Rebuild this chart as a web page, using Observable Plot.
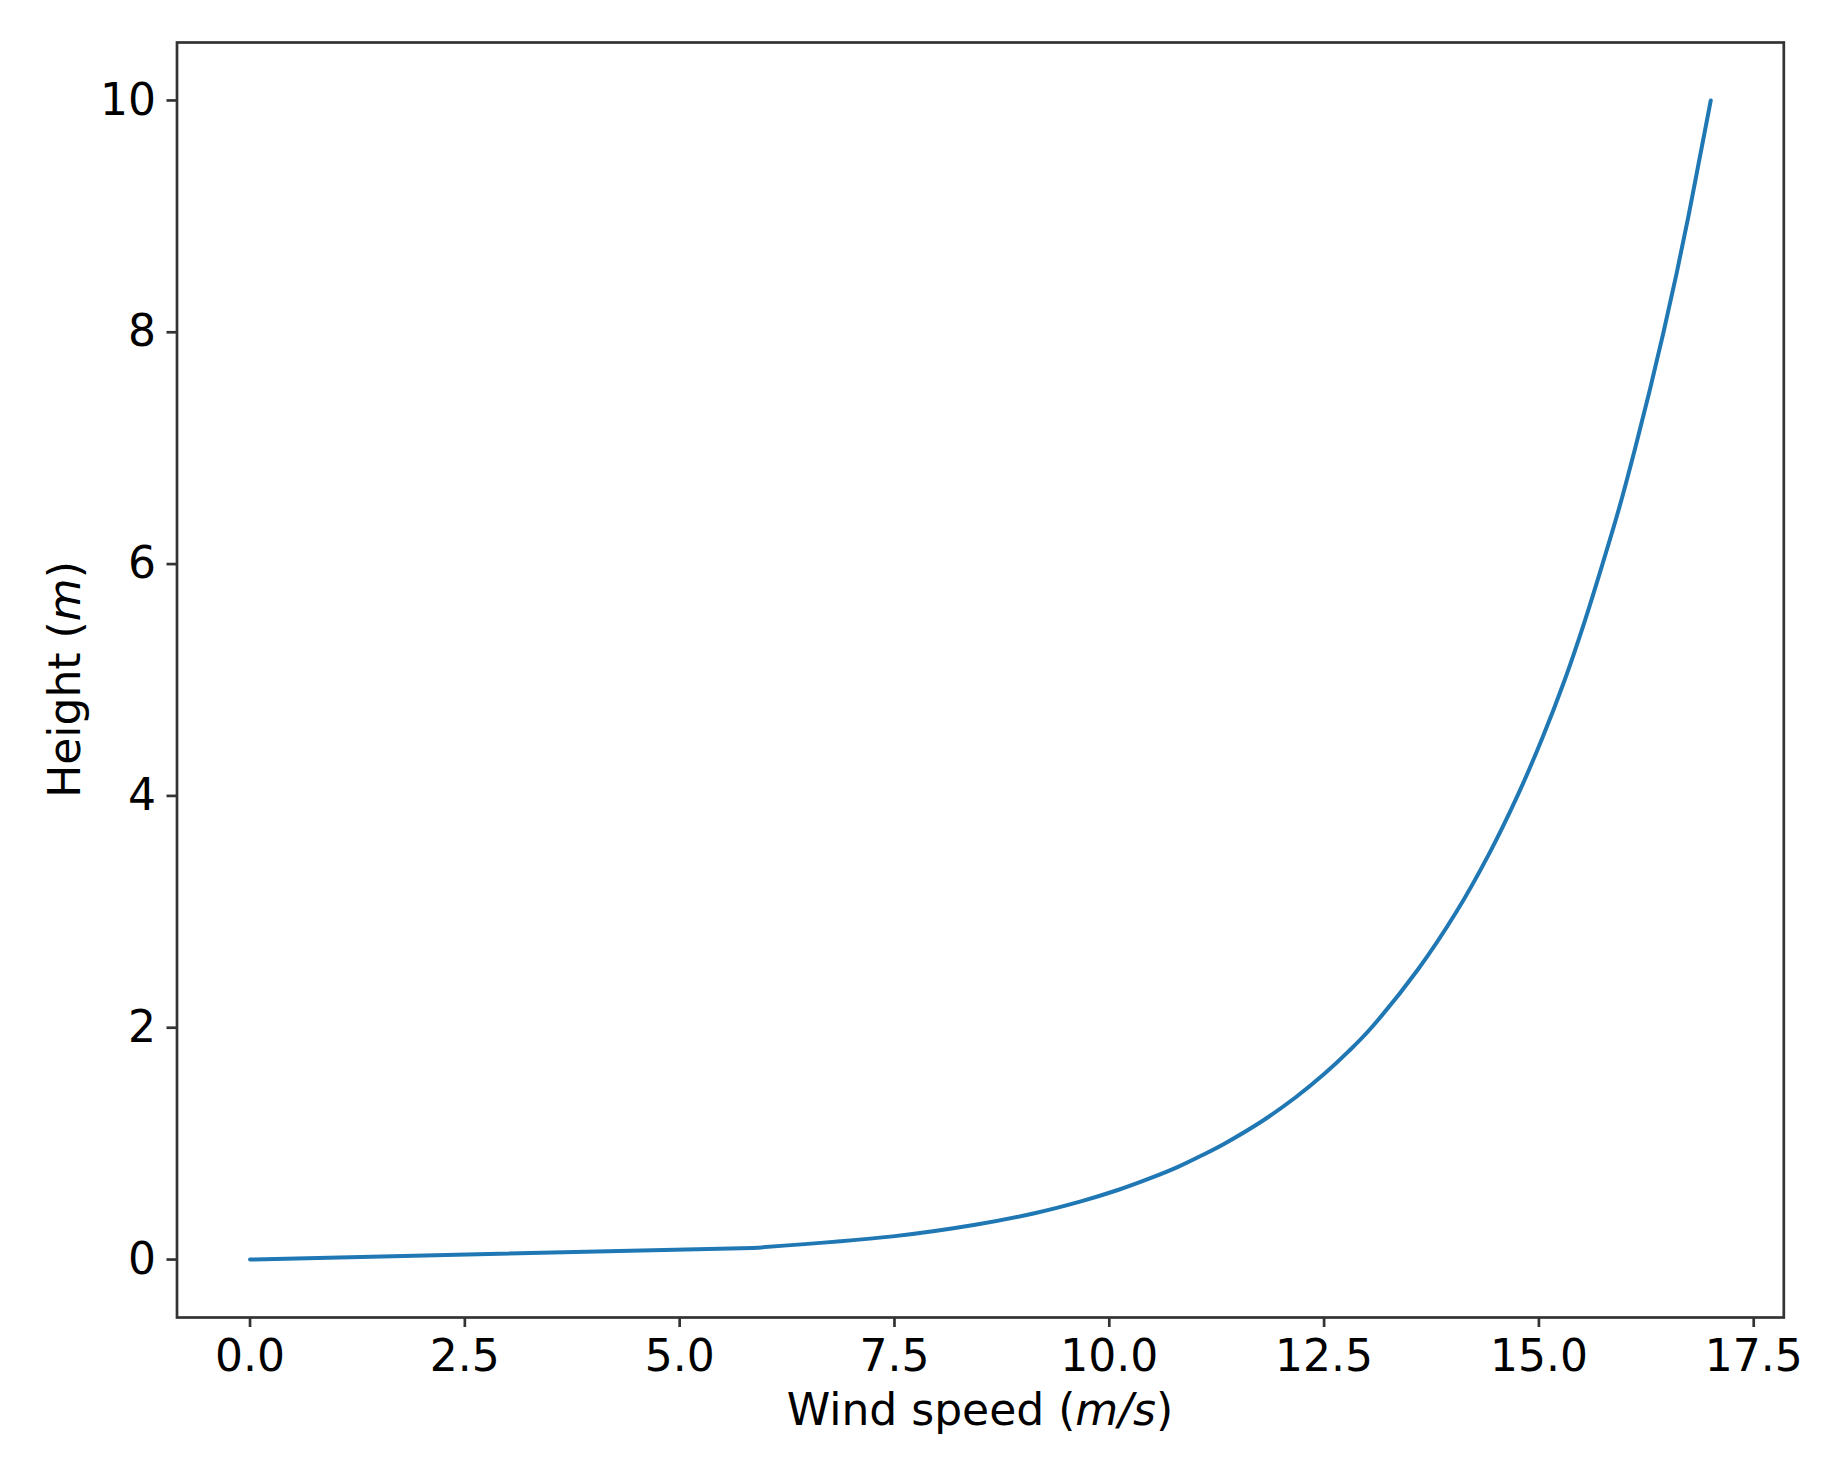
<!DOCTYPE html>
<html>
<head>
<meta charset="utf-8">
<script src="https://cdn.jsdelivr.net/npm/d3@7"></script>
<script src="https://cdn.jsdelivr.net/npm/@observablehq/plot@0.6"></script>
<style>
  html, body { margin: 0; padding: 0; background: #fff; }
</style>
</head>
<body>
<div id="chart"></div>
<script>
// Heights (m) and wind speeds (m/s)
const heights = [0, 0.1, 0.2, 0.3, 0.4, 0.5, 0.6, 0.7, 0.8, 0.9, 1.0, 1.2, 1.4, 1.6, 1.8, 2.0, 2.5, 3.0, 3.5, 4.0, 4.5, 5.0, 5.5, 6.0, 6.5, 7.0, 7.5, 8.0, 8.5, 9.0, 9.5, 10.0];
const windSpeeds = [0, 5.85, 7.48, 8.44, 9.13, 9.66, 10.10, 10.47, 10.80, 11.08, 11.34, 11.79, 12.17, 12.50, 12.79, 13.05, 13.59, 14.04, 14.42, 14.75, 15.04, 15.30, 15.53, 15.74, 15.94, 16.12, 16.29, 16.45, 16.60, 16.74, 16.87, 17.00];

const xTicks = [0, 2.5, 5, 7.5, 10, 12.5, 15, 17.5];
const yTicks = [0, 2, 4, 6, 8, 10];
const xLabelParts = ["Wind speed (", "m/s", ")"];
const yLabelParts = ["Height (", "m", ")"];

const data = heights.map((h, i) => ({height: h, speed: windSpeeds[i]}));
const nearGround = data.slice(0, 2);
const upper = data.slice(1);

const W = 1821, H = 1471;
const mL = 176.5, mR = 37.7, mT = 42, mB = 154;
const axisColor = "#333";

const svg = Plot.plot({
  width: W,
  height: H,
  marginLeft: mL,
  marginRight: mR,
  marginTop: mT,
  marginBottom: mB,
  style: {fontFamily: "DejaVu Sans", fontSize: "44px", background: "white", color: "#000"},
  x: {domain: [-0.85, 17.85], label: null},
  y: {domain: [-0.5, 10.5], label: null},
  marks: [
    Plot.line(nearGround, {x: "speed", y: "height", stroke: "#1f77b4", strokeWidth: 4}),
    Plot.line(upper, {x: "speed", y: "height", stroke: "#1f77b4", strokeWidth: 4, curve: "catmull-rom"}),
    Plot.axisX({ticks: xTicks, tickFormat: d3.format(".1f"), tickSize: 10, tickPadding: 12, stroke: axisColor, strokeWidth: 2.7, label: null, fill: "#000"}),
    Plot.axisY({ticks: yTicks, tickFormat: d3.format("d"), tickSize: 10, tickPadding: 11, stroke: axisColor, strokeWidth: 2.7, label: null, fill: "#000"}),
    Plot.frame({stroke: axisColor, strokeWidth: 2.7})
  ]
});

document.getElementById("chart").appendChild(svg);

const s = d3.select(svg);
const xl = s.append("text")
  .attr("x", (mL + (W - mR)) / 2)
  .attr("y", 1425)
  .attr("text-anchor", "middle")
  .attr("font-family", "DejaVu Sans")
  .attr("font-size", 44)
  .attr("fill", "#000");
xl.append("tspan").text(xLabelParts[0]);
xl.append("tspan").attr("font-style", "italic").text(xLabelParts[1]);
xl.append("tspan").text(xLabelParts[2]);

const yl = s.append("text")
  .attr("transform", `translate(80, ${(mT + (H - mB)) / 2}) rotate(-90)`)
  .attr("text-anchor", "middle")
  .attr("font-family", "DejaVu Sans")
  .attr("font-size", 44)
  .attr("fill", "#000");
yl.append("tspan").text(yLabelParts[0]);
yl.append("tspan").attr("font-style", "italic").text(yLabelParts[1]);
yl.append("tspan").text(yLabelParts[2]);
</script>
</body>
</html>
